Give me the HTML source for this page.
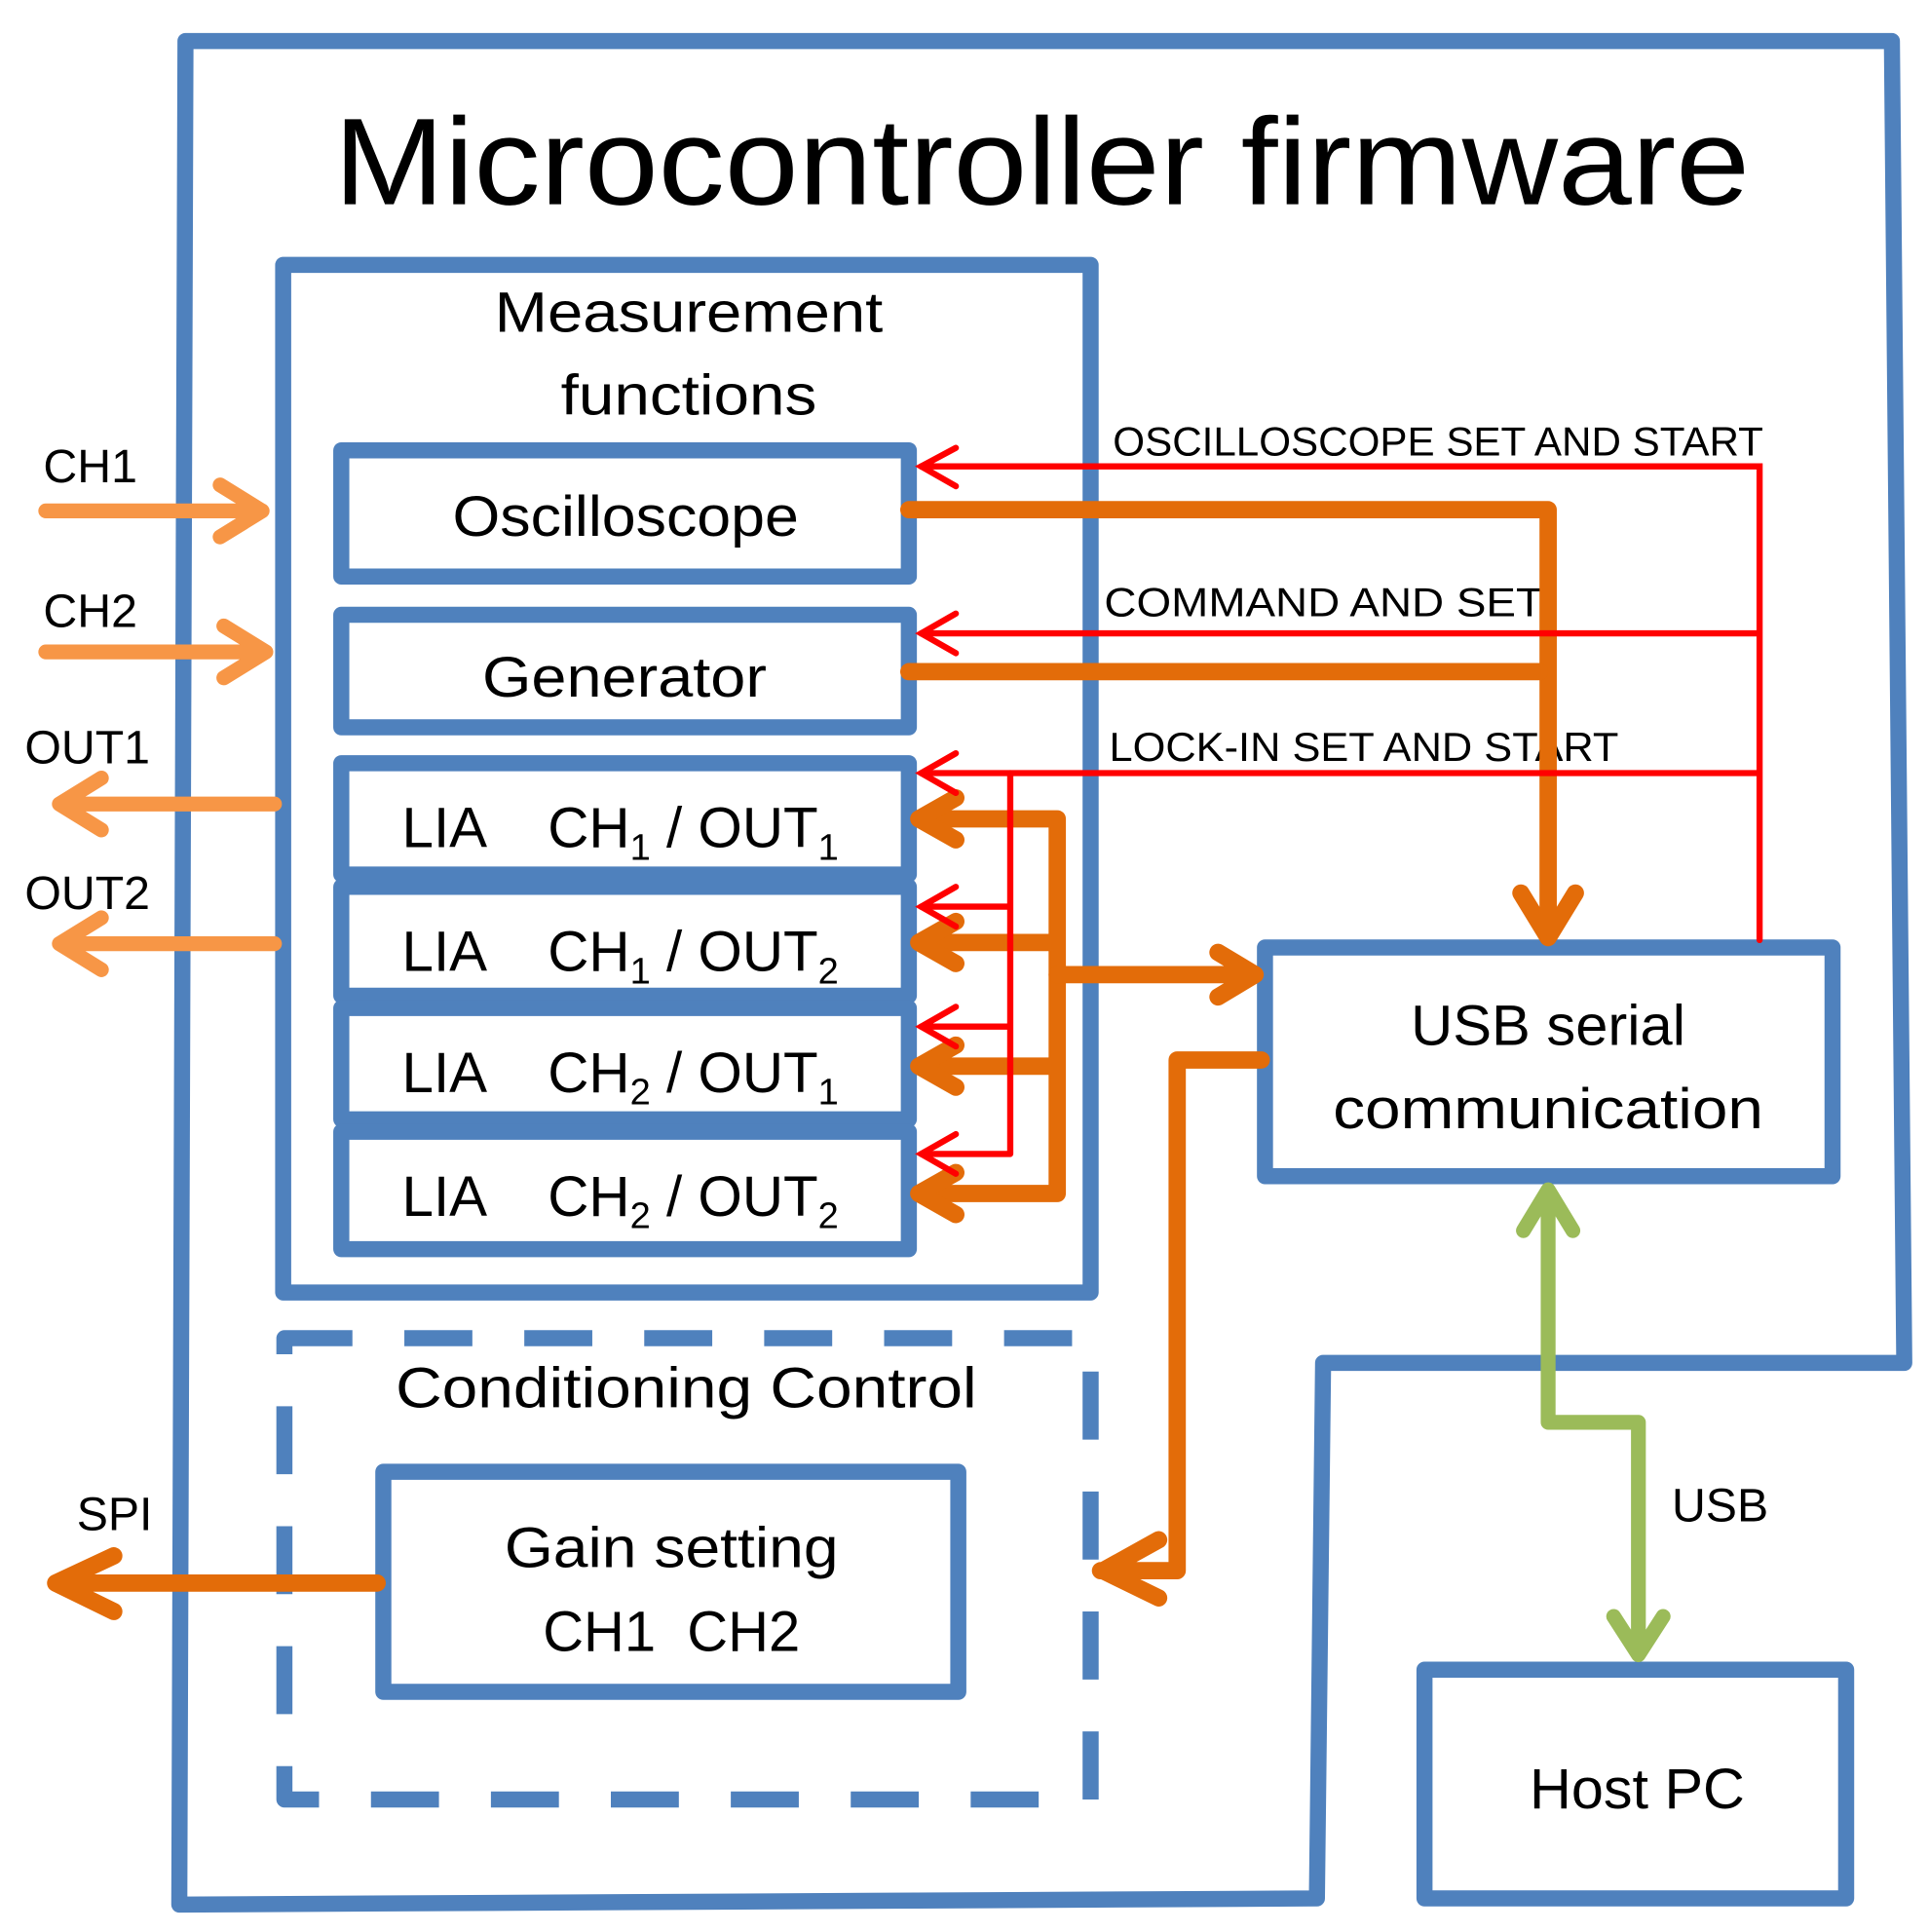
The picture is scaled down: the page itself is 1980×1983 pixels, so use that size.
<!DOCTYPE html>
<html><head><meta charset="utf-8"><style>
html,body{margin:0;padding:0;background:#fff;}
svg{display:block;}
text{font-family:"Liberation Sans",sans-serif;fill:#000;}
</style></head><body>
<svg width="1980" height="1983" viewBox="0 0 1560 1562" xmlns="http://www.w3.org/2000/svg">
<g fill="none" stroke="#4f81bd" stroke-width="13" stroke-linejoin="round">
<polygon points="150,33 1530,33 1540,1102 1070,1102 1065,1535 145,1540"/>
<rect x="229" y="214" width="653" height="831"/>
<rect x="276" y="364" width="459" height="102"/>
<rect x="276" y="497" width="459" height="91"/>
<rect x="276" y="617" width="459" height="90"/>
<rect x="276" y="717" width="459" height="88"/>
<rect x="276" y="815" width="459" height="90"/>
<rect x="276" y="915" width="459" height="95"/>
<rect x="1023" y="766" width="459" height="185"/>
<rect x="1152" y="1350" width="341" height="185"/>
<rect x="310" y="1190" width="465" height="178"/>
<path d="M230,1082 H882 V1455 H230 Z" stroke-dasharray="55,42"/>
</g>
<g font-size="100"><text x="270" y="165" textLength="1145" lengthAdjust="spacingAndGlyphs">Microcontroller firmware</text></g>
<g font-size="46" text-anchor="middle">
<text x="557" y="268" textLength="314" lengthAdjust="spacingAndGlyphs">Measurement</text>
<text x="557" y="335" textLength="207" lengthAdjust="spacingAndGlyphs">functions</text>
<text x="506" y="433" textLength="280" lengthAdjust="spacingAndGlyphs">Oscilloscope</text>
<text x="505" y="563" textLength="230" lengthAdjust="spacingAndGlyphs">Generator</text>
<text x="1252" y="845" textLength="222" lengthAdjust="spacingAndGlyphs">USB serial</text>
<text x="1252" y="912" textLength="348" lengthAdjust="spacingAndGlyphs">communication</text>
<text x="1324" y="1462" textLength="174" lengthAdjust="spacingAndGlyphs">Host PC</text>
<text x="555" y="1138" textLength="470" lengthAdjust="spacingAndGlyphs">Conditioning Control</text>
<text x="543" y="1267" textLength="270" lengthAdjust="spacingAndGlyphs">Gain setting</text>
<text x="543" y="1335" textLength="208" lengthAdjust="spacingAndGlyphs" xml:space="preserve">CH1  CH2</text>
</g>
<g font-size="46">
<text x="325" y="685">LIA</text><text x="443" y="685">CH<tspan font-size="30" dy="10">1</tspan><tspan dy="-10"> / OUT</tspan><tspan font-size="30" dy="10">1</tspan></text>
<text x="325" y="785">LIA</text><text x="443" y="785">CH<tspan font-size="30" dy="10">1</tspan><tspan dy="-10"> / OUT</tspan><tspan font-size="30" dy="10">2</tspan></text>
<text x="325" y="883">LIA</text><text x="443" y="883">CH<tspan font-size="30" dy="10">2</tspan><tspan dy="-10"> / OUT</tspan><tspan font-size="30" dy="10">1</tspan></text>
<text x="325" y="983">LIA</text><text x="443" y="983">CH<tspan font-size="30" dy="10">2</tspan><tspan dy="-10"> / OUT</tspan><tspan font-size="30" dy="10">2</tspan></text>
</g>
<g font-size="38">
<text x="35" y="390">CH1</text>
<text x="35" y="507">CH2</text>
<text x="20" y="617">OUT1</text>
<text x="20" y="735">OUT2</text>
<text x="62" y="1237">SPI</text>
<text x="1352" y="1230">USB</text>
</g>
<g font-size="33">
<text x="900" y="368" textLength="526" lengthAdjust="spacingAndGlyphs">OSCILLOSCOPE SET AND START</text>
<text x="893" y="498" textLength="355" lengthAdjust="spacingAndGlyphs">COMMAND AND SET</text>
<text x="897" y="615" textLength="412" lengthAdjust="spacingAndGlyphs">LOCK-IN SET AND START</text>
</g>
<g fill="none" stroke="#f79646" stroke-width="12" stroke-linecap="round" stroke-linejoin="round">
<path d="M37,413 H212 M178,392 L212,413 L178,434"/>
<path d="M37,527 H215 M181,506 L215,527 L181,548"/>
<path d="M222,650 H48 M82,629 L48,650 L82,671" />
<path d="M222,763 H48 M82,742 L48,763 L82,784" />
</g>
<g fill="none" stroke="#e36c09" stroke-width="14" stroke-linecap="round" stroke-linejoin="round">
<path d="M735,412 H1252 V755 M1230,722 L1252,758 L1274,722"/>
<path d="M735,543 H1245"/>
<path d="M745,662 H855 V965 H745 M745,762 H855 M745,862 H855"/>
<path d="M773,645 L743,662 L773,679 M773,745 L743,762 L773,779 M773,845 L743,862 L773,879 M773,948 L743,965 L773,982"/>
<path d="M855,788 H1015 M985,770 L1015,788 L985,806"/>
<path d="M1020,857 H952 V1270 H890 M937,1245 L892,1270 L937,1292"/>
<path d="M305,1280 H45 M92,1258 L45,1280 L92,1303"/>
</g>
<g fill="none" stroke="#ff0000" stroke-width="5" stroke-linecap="round">
<path d="M745,377 H1423 V760 M745,512 H1423 M745,625 H1423"/>
<path d="M817,625 V933 M745,733 H817 M745,830 H817 M745,933 H817"/>
<path d="M773,362 L745,377 L773,393 M773,496 L745,512 L773,528 M773,609 L745,625 L773,641 M773,717 L745,733 L773,749 M773,814 L745,830 L773,846 M773,917 L745,933 L773,949"/>
</g>
<g fill="none" stroke="#9bbb59" stroke-width="12" stroke-linecap="round" stroke-linejoin="round">
<path d="M1252,962 V1150 H1325 V1335 M1232,995 L1252,962 L1272,995 M1305,1307 L1325,1338 L1345,1307"/>
</g>
</svg>
</body></html>
